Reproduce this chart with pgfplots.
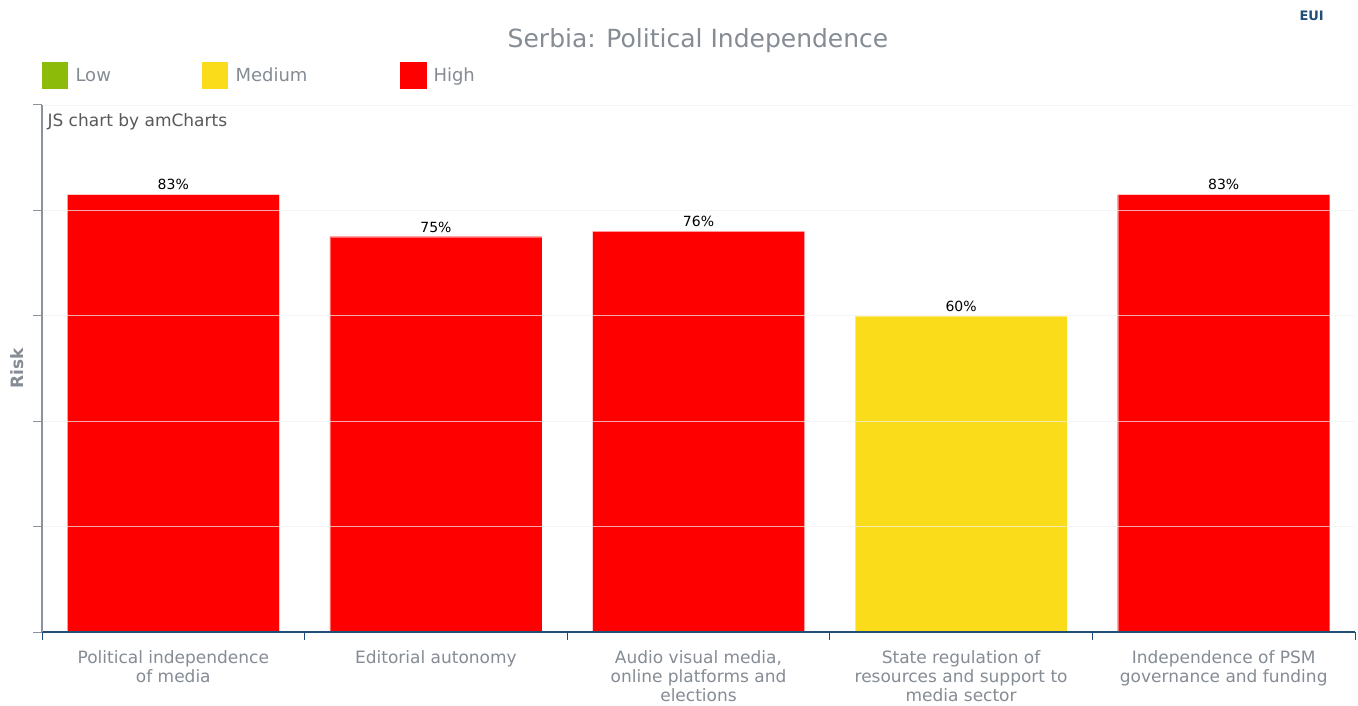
\documentclass[border=0pt]{standalone}
\usepackage{pgfplots}
\pgfplotsset{compat=1.18}
\usepackage{fontspec}
\setmainfont{DejaVu Sans}
\definecolor{cLow}{HTML}{8DBB0A}
\definecolor{cMed}{HTML}{FADC1A}
\definecolor{cHigh}{HTML}{FF0000}
\definecolor{txtgray}{HTML}{858C94}
\definecolor{axgray}{HTML}{8A939B}
\definecolor{axblue}{HTML}{1F4E79}
\begin{document}
\begin{tikzpicture}[x=1bp,y=1bp]
\path[fill=white] (0,0) rectangle (1358,702);
% title
\node[text=txtgray,font=\fontsize{25bp}{30bp}\selectfont] at (698,661) {Serbia: Political Independence};
% logo
\node[text=axblue,font=\bfseries\fontsize{13bp}{14bp}\selectfont,anchor=west] at (1296,686) {EUI};
% legend
\fill[cLow] (42,613) rectangle (68,640);
\node[anchor=base west,text=txtgray,font=\fontsize{18bp}{22bp}\selectfont] at (72,620) {Low};
\fill[cMed] (202,613) rectangle (228,640);
\node[anchor=base west,text=txtgray,font=\fontsize{18bp}{22bp}\selectfont] at (232,620) {Medium};
\fill[cHigh] (400,613) rectangle (427,640);
\node[anchor=base west,text=txtgray,font=\fontsize{18bp}{22bp}\selectfont] at (430,620) {High};
% Risk label
\node[rotate=90,text=txtgray,font=\bfseries\fontsize{17bp}{20bp}\selectfont] at (17,334) {Risk};
\begin{axis}[
  at={(42bp,70bp)}, anchor=south west,
  width=1313bp, height=527bp, scale only axis,
  xmin=-0.5, xmax=4.5, ymin=0, ymax=100,
  axis lines*=left,
  axis on top,
  x axis line style={axblue,line width=1.2pt},
  y axis line style={axgray,line width=1.2pt},
  ytick={0,20,40,60,80,100},
  yticklabels={},
  ytick style={axgray,line width=1pt},
  major tick length=9bp,
  tick align=outside,
  ymajorgrids,
  grid style={color=gray!12,opacity=0.7,line width=0.8pt},
  xtick={0,1,2,3,4},
  major x tick style={draw=none},
  minor xtick={-0.5,0.5,1.5,2.5,3.5,4.5},
  minor x tick style={axblue,line width=1pt},
  minor tick length=8bp,
  xticklabels={{Political independence\\of media},{Editorial autonomy},{Audio visual media,\\online platforms and\\elections},{State regulation of\\resources and support to\\media sector},{Independence of PSM\\governance and funding}},
  xticklabel style={align=center,text=txtgray,font=\fontsize{17bp}{19bp}\selectfont,anchor=north,yshift=-6bp},
  ybar, bar width=212bp, bar shift=0pt,
  /pgf/number format/assume math mode=true,
  nodes near coords={\pgfmathprintnumber{\pgfplotspointmeta}\%},
  every node near coord/.append style={font=\fontsize{14bp}{16bp}\selectfont,text=black,yshift=1bp},
  clip=false,
]
\addplot[fill=cHigh,draw=white,draw opacity=0.4] coordinates {(0,83) (1,75) (2,76) (4,83)};
\addplot[fill=cMed,draw=white,draw opacity=0.4] coordinates {(3,60)};
\end{axis}
\node[anchor=west,text=black!65,font=\fontsize{17bp}{20bp}\selectfont] at (44,580) {JS chart by amCharts};
\end{tikzpicture}
\end{document}
